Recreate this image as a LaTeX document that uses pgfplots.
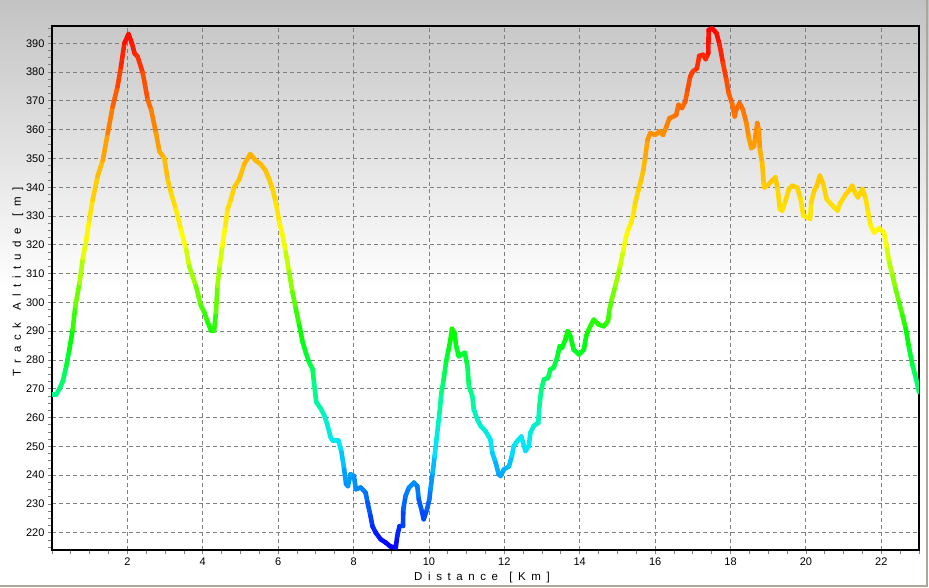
\documentclass[border=0pt]{standalone}
\usepackage{fontspec}
\setmainfont{Liberation Sans}
\usepackage{pgfplots}
\pgfplotsset{compat=1.18}
\definecolor{frameol}{RGB}{172,168,153}
\definecolor{bgtop}{RGB}{195,195,195}
\definecolor{gridgray}{RGB}{128,128,128}
\newcommand\gx{\hspace{5.6pt}}
\newcommand\gy{\hspace{6.2pt}}
\pgfplotstableread{
km alt
0.00 268
0.11 268
0.20 270
0.29 272.7
0.38 278
0.46 283.6
0.55 290.6
0.62 298.7
0.73 306.8
0.82 315.4
0.91 321.8
0.99 328.7
1.08 335.7
1.21 343.8
1.35 349.5
1.48 358.8
1.61 368
1.74 375
1.83 381.9
1.92 390
2.03 393.2
2.12 390
2.19 386.5
2.27 385.4
2.41 379.6
2.54 370.3
2.63 366.9
2.76 358.8
2.85 352.4
2.98 350.1
3.07 342.6
3.16 338
3.29 332.2
3.42 325.3
3.56 318.3
3.64 312.5
3.82 305.6
3.95 298.9
4.04 296.6
4.13 293.1
4.22 290.2
4.30 290.2
4.35 296.6
4.39 305.8
4.45 312.8
4.52 319.7
4.60 326.6
4.66 332.4
4.75 335.9
4.83 339.9
4.97 342.8
5.10 348
5.26 351.5
5.41 349.2
5.54 348
5.67 345.7
5.76 342.8
5.85 339.4
5.94 334.7
6.03 327.8
6.12 323.2
6.20 317.4
6.29 310.5
6.38 303.5
6.47 297.7
6.56 292
6.65 286.2
6.73 282.7
6.82 279.2
6.91 276.9
6.95 272.3
7.01 265.4
7.13 263.1
7.22 260.8
7.31 257.3
7.39 253.2
7.45 252
7.60 252
7.68 248
7.75 242
7.80 237
7.85 236.2
7.92 240.3
8.01 239.7
8.06 235.1
8.19 235.7
8.32 233.9
8.37 230.5
8.45 225.8
8.50 222.3
8.59 220
8.72 217.7
8.85 216.6
8.98 215.2
9.12 214.9
9.16 218.9
9.22 222.3
9.31 222.3
9.32 228.2
9.38 232.8
9.47 235.7
9.60 237.4
9.69 236.2
9.73 231.6
9.82 227
9.86 224.7
9.95 228.2
10.01 231.6
10.04 235.1
10.10 240.9
10.15 246.6
10.20 252.4
10.24 257.1
10.28 261.7
10.33 268.6
10.39 273.2
10.45 279
10.52 283.6
10.57 287.1
10.61 290.8
10.68 289.4
10.72 284.8
10.79 281.3
10.86 281.9
10.95 282.5
11.02 277.9
11.06 270.9
11.15 267.5
11.19 262.8
11.28 259.4
11.37 257.1
11.50 255.3
11.63 252.4
11.68 247.8
11.77 244.3
11.85 240.3
11.90 239.7
11.99 242
12.12 243
12.20 246.6
12.25 250.1
12.34 251.8
12.45 253.4
12.56 248.4
12.65 250.1
12.69 254.7
12.78 257.1
12.90 258.2
12.93 264
12.98 269.8
13.05 273.2
13.16 273.8
13.22 276.7
13.31 277.3
13.40 280.8
13.47 284.8
13.53 284.2
13.62 287.1
13.68 290
13.75 288.3
13.84 283.6
13.98 281.9
14.11 283.6
14.17 288.3
14.24 290.6
14.37 294
14.50 292.3
14.64 291.7
14.75 293.5
14.79 297.5
14.85 301
14.95 306
15.07 312.5
15.16 318.3
15.23 322.9
15.29 325.3
15.36 327.6
15.43 331
15.47 334.5
15.56 339.1
15.63 342.6
15.69 346.1
15.74 350.7
15.80 356.5
15.87 358.8
16.00 358.2
16.12 359.4
16.21 358.2
16.30 361.1
16.38 364
16.49 364.6
16.56 365.1
16.62 368.6
16.71 367.5
16.80 369.8
16.86 373.8
16.93 378.4
17.00 380.2
17.11 381.3
17.17 385.6
17.27 386
17.34 384.5
17.41 386.5
17.42 394.6
17.51 395.2
17.63 393.5
17.71 389.4
17.80 383.1
17.89 377.3
17.95 372.7
18.04 369.2
18.11 364.6
18.15 366.9
18.24 369.2
18.33 366.9
18.42 362.3
18.48 357.6
18.55 353.6
18.62 354.2
18.66 357.6
18.71 362.3
18.75 359.9
18.78 353
18.84 348.4
18.88 341.4
18.90 339.9
19.02 341.1
19.10 342.3
19.19 343.4
19.25 339.4
19.31 332.4
19.37 331.9
19.46 335.3
19.55 339.4
19.64 340.5
19.77 339.9
19.86 335.9
19.93 330.1
20.04 329.5
20.11 329
20.14 334.7
20.22 338.8
20.29 340.5
20.37 344
20.46 341.1
20.55 335.9
20.66 334.2
20.75 333
20.84 331.9
20.92 334.7
21.06 337.6
21.14 338.8
21.23 340.5
21.32 337.6
21.38 336.5
21.50 339.4
21.59 335.9
21.65 331.3
21.72 326.6
21.81 324.3
21.94 325.7
22.07 324.3
22.15 318.6
22.21 313.9
22.30 309.3
22.38 304.7
22.47 300.1
22.56 295.5
22.65 290.8
22.74 283.9
22.83 278.1
22.92 273.5
23.00 268.8
}\track
\begin{document}
\begin{tikzpicture}
\useasboundingbox (0pt,0pt) rectangle (929pt,587pt);
\fill[white] (0pt,0pt) rectangle (929pt,587pt);
\shade[top color=bgtop, bottom color=white] (0pt,297pt) rectangle (929pt,587pt);
\begin{axis}[
  at={(52pt,37pt)}, anchor=south west,
  scale only axis, width=867pt, height=524pt,
  xmin=0, xmax=23, ymin=214, ymax=396,
  xtick={2,4,...,22}, ytick={220,230,...,390},
  minor xtick={0,0.5,...,23}, minor ytick={215,217.5,...,395},
  tick pos=left, tick align=outside,
  major tick length=4pt, minor tick length=4pt,
  every tick/.style={gridgray, line width=0.8pt},
  grid=major,
  major grid style={gridgray, line width=0.9pt, dash pattern=on 4pt off 3pt},
  axis line style={black, line width=2.5pt},
  /pgf/number format/assume math mode=true,
  tick label style={font=\fontsize{11}{13}\selectfont},
  colormap={alt}{rgb255(0pt)=(0,0,255); rgb255(35pt)=(0,230,255); rgb255(53pt)=(0,255,140); rgb255(73pt)=(0,255,0); rgb255(107pt)=(255,255,0); rgb255(135pt)=(255,180,0); rgb255(180pt)=(255,0,0)},
  point meta min=215, point meta max=395,
]
\addplot[mesh, point meta=y, line width=4.6pt, line cap=round, line join=round] table[x=km, y=alt] {\track};
\end{axis}
\node[font=\fontsize{11.5}{13}\selectfont, anchor=center] at (482pt,9pt) {D\gx i\gx s\gx t\gx a\gx n\gx c\gx e\gx\gx [\gx K\gx m\gx ]};
\node[font=\fontsize{11.5}{13}\selectfont, anchor=center, rotate=90] at (18pt,305pt) {T\gy r\gy a\gy c\gy k\gy\gy A\gy l\gy t\gy i\gy t\gy u\gy d\gy e\gy\gy [\gy m\gy ]};
\draw[frameol, line width=2pt] (0pt,1pt) -- (927pt,1pt) -- (927pt,587pt);
\end{tikzpicture}
\end{document}
